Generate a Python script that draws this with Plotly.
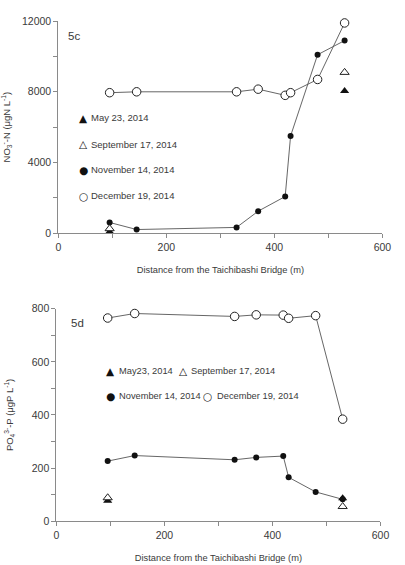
import plotly.graph_objects as go

# ---- data ----
dist = [95, 145, 330, 370, 420, 430, 480, 530]
no3_dec = [7950, 8000, 8000, 8150, 7800, 7950, 8700, 11900]
no3_nov = [600, 200, 320, 1240, 2070, 5500, 10100, 10900]
no3_may_x = [95, 530]
no3_may = [80, 8050]
no3_sep_x = [95, 530]
no3_sep = [250, 9100]

po4_dec = [765, 782, 771, 777, 776, 764, 774, 384]
po4_nov = [226, 247, 231, 240, 245, 165, 110, 82]
po4_may_x = [95, 530]
po4_may = [77, 86]
po4_sep_x = [95, 530]
po4_sep = [88, 55]

x_ticks = [0, 200, 400, 600]
no3_ticks = [0, 4000, 8000, 12000]
po4_ticks = [0, 200, 400, 600, 800]

W, H = 405, 565
FONT = "Liberation Sans, Arial, sans-serif"
TXT = "#3a3a3a"
AX = "#8a8a8a"
LINE = "#555555"

fig = go.Figure()

def add_series(xa, ya, show):
    fig.add_trace(go.Scatter(x=dist, y=show["dec"], xaxis=xa, yaxis=ya, mode="lines+markers",
                             line=dict(color=LINE, width=0.9),
                             marker=dict(symbol="circle", size=8.5, color="white",
                                         line=dict(color="#222", width=1)),
                             showlegend=False, cliponaxis=False))
    fig.add_trace(go.Scatter(x=dist, y=show["nov"], xaxis=xa, yaxis=ya, mode="lines+markers",
                             line=dict(color=LINE, width=0.9),
                             marker=dict(symbol="circle", size=6, color="#111"),
                             showlegend=False, cliponaxis=False))
    fig.add_trace(go.Scatter(x=show["may_x"], y=show["may"], xaxis=xa, yaxis=ya, mode="markers",
                             marker=dict(symbol="triangle-up", size=8, color="#111"),
                             showlegend=False, cliponaxis=False))
    fig.add_trace(go.Scatter(x=show["sep_x"], y=show["sep"], xaxis=xa, yaxis=ya, mode="markers",
                             marker=dict(symbol="triangle-up", size=8, color="white",
                                         line=dict(color="#222", width=1)),
                             showlegend=False, cliponaxis=False))

add_series("x", "y", dict(dec=no3_dec, nov=no3_nov, may_x=no3_may_x, may=no3_may,
                          sep_x=no3_sep_x, sep=no3_sep))
add_series("x2", "y2", dict(dec=po4_dec, nov=po4_nov, may_x=po4_may_x, may=po4_may,
                            sep_x=po4_sep_x, sep=po4_sep))

def px_x(p):
    return p / W

def px_y(p):
    return 1 - p / H

common_x = dict(range=[0, 600], tickvals=x_ticks, ticktext=[str(v) for v in x_ticks],
                showline=True, linecolor=AX,
                linewidth=1, ticks="outside", ticklen=4, tickcolor=AX, showgrid=False,
                zeroline=False, tickfont=dict(family=FONT, size=10.5, color=TXT),
                minor=dict(ticks="outside", ticklen=4, tickcolor=AX, dtick=100, showgrid=False),
                title=dict(text="Distance from the Taichibashi Bridge (m)",
                           font=dict(family=FONT, size=9.3, color=TXT), standoff=14))
common_y = dict(showline=True, linecolor=AX, linewidth=1, ticks="outside", ticklen=4,
                tickcolor=AX, showgrid=False, zeroline=False,
                tickfont=dict(family=FONT, size=10.5, color=TXT))

fig.update_layout(
    width=W, height=H, margin=dict(l=0, r=0, t=0, b=0),
    paper_bgcolor="white", plot_bgcolor="white",
    xaxis=dict(common_x, domain=[px_x(57), px_x(391)], anchor="y"),
    yaxis=dict(common_y, domain=[px_y(232), px_y(15.5)], anchor="x", range=[0, 12000],
               tickvals=no3_ticks, ticktext=[str(v) for v in no3_ticks],
               minor=dict(ticks="outside", ticklen=4, tickcolor=AX, dtick=2000, showgrid=False),
               title=dict(text="NO<sub>3</sub><sup>-</sup>-N (μgN L<sup>-1</sup>)",
                          font=dict(family=FONT, size=9.5, color=TXT), standoff=10)),
    xaxis2=dict(common_x, domain=[px_x(55), px_x(389)], anchor="y2"),
    yaxis2=dict(common_y, domain=[px_y(526.3), px_y(309.3)], anchor="x2", range=[0, 800],
                tickvals=po4_ticks, ticktext=[str(v) for v in po4_ticks],
                minor=dict(ticks="outside", ticklen=4, tickcolor=AX, dtick=100, showgrid=False),
                title=dict(text="PO<sub>4</sub><sup>3-</sup>-P (μgP L<sup>-1</sup>)",
                           font=dict(family=FONT, size=9.5, color=TXT), standoff=16)),
)

ann = []
def label(x, y, text, size=9.5, anchor="left"):
    ann.append(dict(xref="paper", yref="paper", x=px_x(x), y=px_y(y), text=text,
                    showarrow=False, xanchor=anchor, yanchor="middle",
                    font=dict(family=FONT, size=size, color=TXT)))

def sym(x, y, s, size=10.5):
    ann.append(dict(xref="paper", yref="paper", x=px_x(x), y=px_y(y), text=s,
                    showarrow=False, xanchor="center", yanchor="middle",
                    font=dict(family="DejaVu Sans", size=size, color="#111")))

label(65, 31, "5c", size=11.5)
label(68, 324, "5d", size=11.5)

# top legend
top_items = [("▲", "May 23, 2014", 114), ("△", "September 17, 2014", 141),
             ("●", "November 14, 2014", 167.5), ("○", "December 19, 2014", 194)]
for s, t, y in top_items:
    sym(83, y, s)
    label(89, y, t)

# bottom legend
sym(111, 372.5, "▲"); label(117, 372.5, "May23, 2014", size=9.3)
sym(186, 372.5, "△"); label(192, 372.5, "September 17, 2014", size=9.3)
sym(111, 398.5, "●"); label(117, 398.5, "November 14, 2014", size=9.3)
sym(211, 398.5, "○"); label(218, 398.5, "December 19, 2014", size=9.3)

fig.update_layout(annotations=ann)
fig.write_html("out.html")
